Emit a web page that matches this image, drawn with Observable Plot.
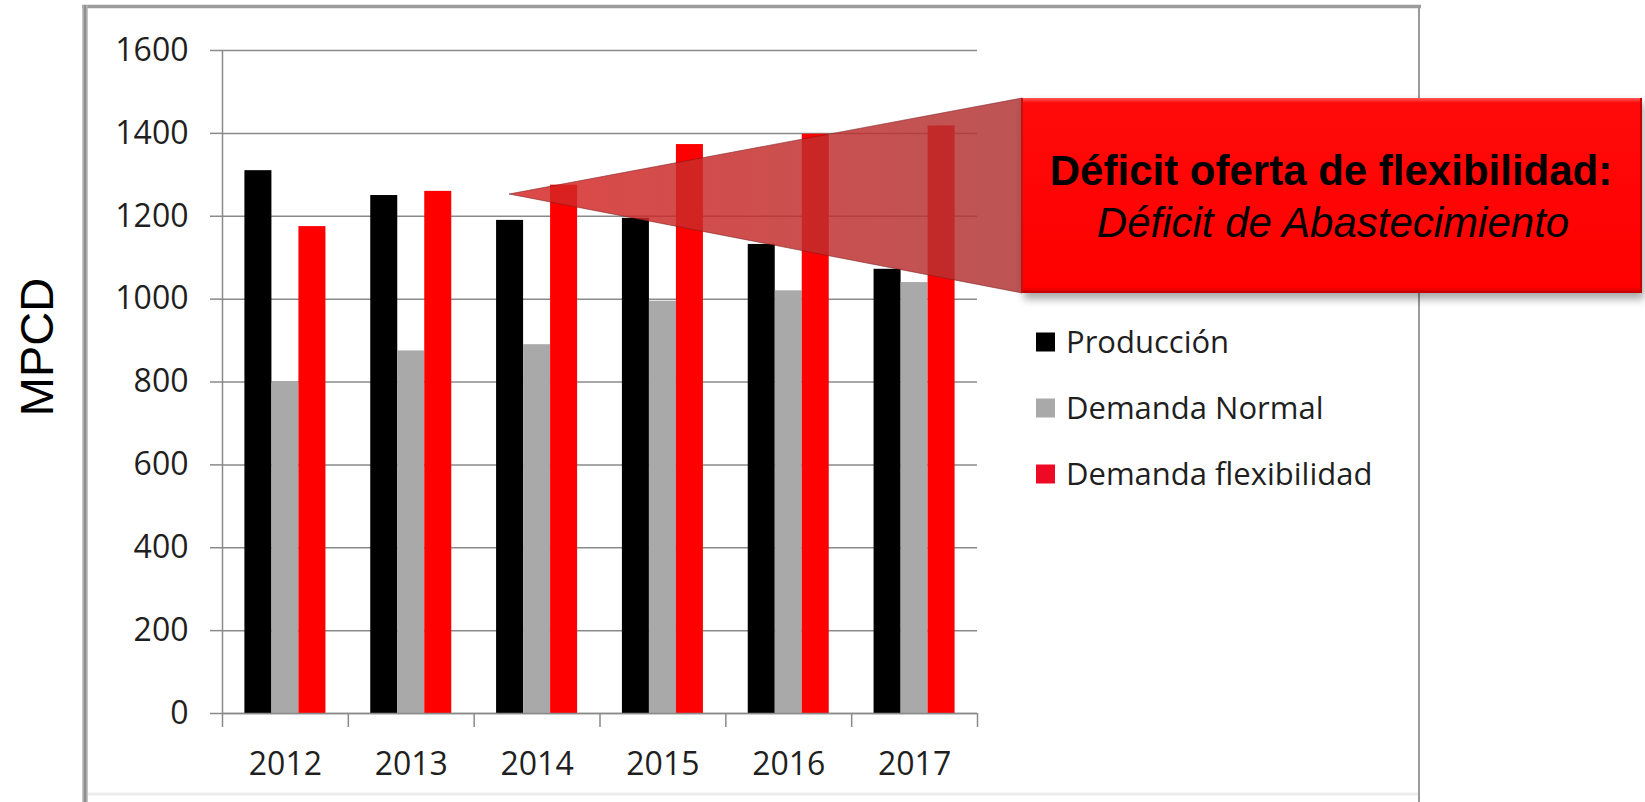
<!DOCTYPE html>
<html>
<head>
<meta charset="utf-8">
<script src="https://cdn.jsdelivr.net/npm/d3@7"></script>
<script src="https://cdn.jsdelivr.net/npm/@observablehq/plot@0.6"></script>
<style>
  html, body { margin: 0; padding: 0; background: #fff; }
  #wrap { position: relative; width: 1645px; height: 802px; overflow: hidden; }
  #wrap > svg { position: absolute; left: 0; top: 0; }
</style>
</head>
<body>
<div id="wrap"></div>
<script>
// ---- data ----
const years = [2012, 2013, 2014, 2015, 2016, 2017];
const produccion = [1310, 1250, 1190, 1195, 1132, 1072];
const demandaNormal = [800, 875, 890, 995, 1020, 1040];
const demandaFlexibilidad = [1175, 1260, 1275, 1373, 1398, 1418];
const seriesNames = ["Producción", "Demanda Normal", "Demanda flexibilidad"];
const seriesColors = ["#000000", "#a9a9a9", "#ff0000"];
const legendColors = ["#000000", "#a9a9a9", "#ee0a24"];
const yTicks = [0, 200, 400, 600, 800, 1000, 1200, 1400, 1600];
const yLabel = "MPCD";
const calloutTitle = "Déficit oferta de flexibilidad:";
const calloutSubtitle = "Déficit de Abastecimiento";

const seriesValues = [produccion, demandaNormal, demandaFlexibilidad];
const rows = [];
seriesValues.forEach((vals, si) => {
  vals.forEach((v, yi) => rows.push({year: years[yi], series: seriesNames[si], idx: si, value: v}));
});
const boundaries = [years[0] - 0.5, ...years.map(y => y + 0.5)];
const bw = 0.2146; // bar width as fraction of a category
const gridColor = "#8a8a8a";

const chart = Plot.plot({
  width: 1645,
  height: 802,
  marginLeft: 222,
  marginRight: 668,
  marginTop: 50,
  marginBottom: 89,
  style: {background: "transparent", fontFamily: "'Open Sans', sans-serif", color: "#1a1a1a"},
  x: {type: "linear", domain: [boundaries[0], boundaries[boundaries.length - 1]], label: null},
  y: {domain: [0, 1600], label: null},
  color: {domain: seriesNames, range: seriesColors},
  marks: [
    Plot.gridY(yTicks, {stroke: gridColor, strokeOpacity: 1, strokeWidth: 1.5}),
    Plot.rectY(rows, {
      x1: d => d.year + (d.idx - 1) * bw - bw / 2,
      x2: d => d.year + (d.idx - 1) * bw + bw / 2,
      y1: 0,
      y2: "value",
      fill: "series"
    }),
    Plot.ruleY([0], {stroke: gridColor, strokeWidth: 1.5}),
    Plot.ruleX([boundaries[0]], {y1: 0, y2: 1600, stroke: gridColor, strokeWidth: 1.5}),
    Plot.axisY(yTicks, {
      anchor: "left", tickSize: 12, tickPadding: 22, fontSize: 32,
      stroke: gridColor, strokeWidth: 1.5, fill: "#1f1f1f",
      tickFormat: d => String(d), label: null
    }),
    Plot.axisX(boundaries, {
      anchor: "bottom", tickSize: 14, stroke: gridColor, strokeWidth: 1.5,
      tickFormat: () => "", label: null
    }),
    Plot.axisX(years, {
      anchor: "bottom", tickSize: 0, tickPadding: 39, fontSize: 32, fill: "#1f1f1f",
      tickFormat: d => String(d), label: null
    })
  ]
});
document.getElementById("wrap").appendChild(chart);

// ---- overlay: frame, y label, legend, callout ----
const ns = "http://www.w3.org/2000/svg";
const ov = d3.select("#wrap").append("svg")
  .attr("xmlns", ns).attr("width", 1645).attr("height", 802)
  .style("pointer-events", "none");

const defs = ov.append("defs");
const tg = defs.append("linearGradient").attr("id", "tri").attr("x1", "0").attr("x2", "1").attr("y1", "0").attr("y2", "0");
tg.append("stop").attr("offset", "0").attr("stop-color", "rgb(214,38,36)");
tg.append("stop").attr("offset", "1").attr("stop-color", "rgb(176,52,52)");
const bg = defs.append("linearGradient").attr("id", "box").attr("x1", "0").attr("x2", "0").attr("y1", "0").attr("y2", "1");
bg.append("stop").attr("offset", "0").attr("stop-color", "#ff5a5a");
bg.append("stop").attr("offset", "0.025").attr("stop-color", "#ff0a0a");
bg.append("stop").attr("offset", "0.97").attr("stop-color", "#fe0000");
bg.append("stop").attr("offset", "1").attr("stop-color", "#c00000");
const sh = defs.append("filter").attr("id", "shadow").attr("x", "-10%").attr("y", "-10%").attr("width", "120%").attr("height", "130%");
sh.append("feGaussianBlur").attr("stdDeviation", 4);

// frame
ov.append("line").attr("x1", 82).attr("x2", 1421).attr("y1", 6.5).attr("y2", 6.5)
  .attr("stroke", "#9c9c9c").attr("stroke-width", 3.5);
ov.append("line").attr("x1", 85).attr("x2", 85).attr("y1", 5).attr("y2", 802)
  .attr("stroke", "#b0b0b0").attr("stroke-width", 5.5);
ov.append("line").attr("x1", 85).attr("x2", 85).attr("y1", 5).attr("y2", 802)
  .attr("stroke", "#8e8e8e").attr("stroke-width", 2);
ov.append("line").attr("x1", 1419).attr("x2", 1419).attr("y1", 5).attr("y2", 802)
  .attr("stroke", "#9a9a9a").attr("stroke-width", 2);
ov.append("line").attr("x1", 88).attr("x2", 1418).attr("y1", 794).attr("y2", 794)
  .attr("stroke", "#ececec").attr("stroke-width", 3);

// y label
ov.append("text")
  .attr("transform", "translate(53,347) rotate(-90)")
  .attr("text-anchor", "middle")
  .attr("font-family", "'Liberation Sans', Arial, sans-serif")
  .attr("font-size", 47)
  .attr("fill", "#000")
  .text(yLabel);

// legend
const lg = ov.append("g");
seriesNames.forEach((name, i) => {
  const cy = 342 + i * 66;
  lg.append("rect").attr("x", 1036).attr("y", cy - 9.5).attr("width", 19).attr("height", 19)
    .attr("fill", legendColors[i]);
  lg.append("text").attr("x", 1066).attr("y", cy + 11)
    .attr("font-family", "'Open Sans', sans-serif").attr("font-size", 31)
    .attr("fill", "#1f1f1f").text(name);
});

// callout wedge
ov.append("path")
  .attr("d", "M509,194 L1022,98 L1022,293 Z")
  .attr("fill", "url(#tri)").attr("fill-opacity", 0.84)
  .attr("stroke", "#7a1c1c").attr("stroke-opacity", 0.55).attr("stroke-width", 1);

// callout box shadow + box
ov.append("rect").attr("x", 1024).attr("y", 103).attr("width", 620).attr("height", 196)
  .attr("fill", "#000").attr("opacity", 0.35).attr("filter", "url(#shadow)");
ov.append("rect").attr("x", 1021).attr("y", 98).attr("width", 621).attr("height", 195)
  .attr("fill", "url(#box)");
ov.append("line").attr("x1", 1022).attr("x2", 1022).attr("y1", 98).attr("y2", 293)
  .attr("stroke", "#c81010").attr("stroke-width", 2);
ov.append("line").attr("x1", 1641).attr("x2", 1641).attr("y1", 98).attr("y2", 293)
  .attr("stroke", "#c80000").attr("stroke-width", 2);

ov.append("text").attr("x", 1331).attr("y", 185)
  .attr("text-anchor", "middle")
  .attr("font-family", "'Liberation Sans', Arial, sans-serif")
  .attr("font-weight", "bold").attr("font-size", 42).attr("fill", "#000")
  .text(calloutTitle);
ov.append("text").attr("x", 1333).attr("y", 237)
  .attr("text-anchor", "middle")
  .attr("font-family", "'Liberation Sans', Arial, sans-serif")
  .attr("font-style", "italic").attr("font-size", 42).attr("fill", "#000")
  .text(calloutSubtitle);
</script>
</body>
</html>
